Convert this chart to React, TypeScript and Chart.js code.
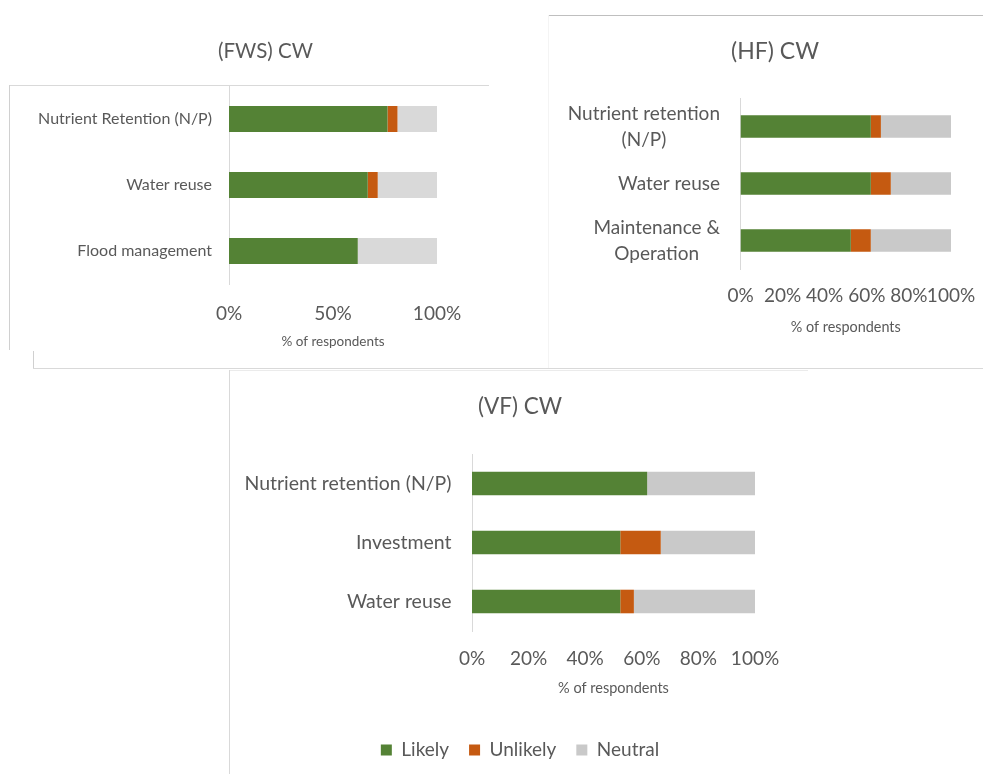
import React, { useEffect, useRef } from 'react';
import { Chart, registerables } from 'chart.js';
Chart.register(...registerables);

const FONT = 'Lato, "Open Sans", sans-serif';
const TEXT = '#595959';
const GREEN = '#548235';
const ORANGE = '#C55A11';
const NEUTRAL_LIGHT = '#D9D9D9';
const NEUTRAL = '#C9C9C9';

const seriesNames = ['Likely', 'Unlikely', 'Neutral'];
const axisTitle = '% of respondents';

// (FWS) CW
const fwsTitle = '(FWS) CW';
const fwsCategories = ['Nutrient Retention (N/P)', 'Water reuse', 'Flood management'];
const fwsLikely = [76.2, 66.7, 61.9];
const fwsUnlikely = [4.8, 4.8, 0];
const fwsNeutral = [19.0, 28.5, 38.1];
const fwsTickStep = 50;

// (HF) CW
const hfTitle = '(HF) CW';
const hfCategories = [['Nutrient retention', '(N/P)'], 'Water reuse', ['Maintenance &', 'Operation']];
const hfLikely = [61.9, 61.9, 52.4];
const hfUnlikely = [4.8, 9.5, 9.5];
const hfNeutral = [33.3, 28.6, 38.1];
const hfTickStep = 20;

// (VF) CW
const vfTitle = '(VF) CW';
const vfCategories = ['Nutrient retention (N/P)', 'Investment', 'Water reuse'];
const vfLikely = [61.9, 52.4, 52.4];
const vfUnlikely = [0, 14.3, 4.8];
const vfNeutral = [38.1, 33.3, 42.8];
const vfTickStep = 20;

// Category labels: each block right-aligned against the axis, lines centred within the block.
const blockLabels = {
  id: 'blockLabels',
  afterDraw(chart: any, _args: any, opts: any) {
    const { ctx } = chart;
    const y = chart.scales.y;
    ctx.save();
    ctx.font = `${opts.size}px ${FONT}`;
    ctx.fillStyle = TEXT;
    ctx.textBaseline = 'middle';
    ctx.textAlign = 'center';
    chart.data.labels.forEach((lab: any, i: number) => {
      const lines: string[] = Array.isArray(lab) ? lab : [lab];
      const w = Math.max(...lines.map((l) => ctx.measureText(l).width));
      const cx = chart.chartArea.left - opts.gap - w / 2;
      const cy = y.getPixelForValue(i);
      lines.forEach((l, j) => {
        ctx.fillText(l, cx, cy + (j - (lines.length - 1) / 2) * opts.lineHeight);
      });
    });
    ctx.restore();
  },
};

function makeConfig(p: any): any {
  const ds = [
    { label: seriesNames[0], data: p.likely, backgroundColor: GREEN },
    { label: seriesNames[1], data: p.unlikely, backgroundColor: ORANGE },
    { label: seriesNames[2], data: p.neutral, backgroundColor: p.neutralColor },
  ].map((d) => ({ ...d, barPercentage: p.barPct, categoryPercentage: 1, borderWidth: 0 }));
  return {
    type: 'bar',
    data: { labels: p.labels, datasets: ds },
    options: {
      indexAxis: 'y',
      responsive: false,
      animation: false,
      devicePixelRatio: 1,
      layout: { padding: { left: p.padL, right: p.padR, top: 0, bottom: p.padB } },
      scales: {
        x: {
          stacked: true,
          min: 0,
          max: 100,
          grid: { display: false, drawTicks: false },
          border: { display: false },
          ticks: {
            stepSize: p.step,
            autoSkip: false,
            maxRotation: 0,
            minRotation: 0,
            padding: p.tickPad,
            color: TEXT,
            font: { family: FONT, size: p.tickSize },
            callback: (v: any) => v + '%',
          },
          title: {
            display: true,
            text: axisTitle,
            color: TEXT,
            font: { family: FONT, size: p.atSize },
            padding: { top: 0, bottom: p.atBottom },
          },
          afterFit: (s: any) => {
            s.height = p.xHeight;
          },
        },
        y: {
          stacked: true,
          grid: { display: false, drawTicks: false },
          border: { display: true, color: '#D9D9D9', width: 1 },
          ticks: { display: false },
          afterFit: (s: any) => {
            s.width = p.yWidth;
          },
        },
      },
      plugins: {
        legend: {
          display: !!p.legend,
          position: 'bottom',
          labels: {
            boxWidth: 11,
            boxHeight: 11,
            padding: 20,
            color: TEXT,
            font: { family: FONT, size: 19 },
          },
        },
        title: {
          display: true,
          text: p.title,
          color: TEXT,
          font: { family: FONT, size: p.titleSize, weight: 'normal' },
          padding: { top: p.tTop, bottom: p.tBottom },
        },
        tooltip: { enabled: false },
        blockLabels: { size: p.labelSize, lineHeight: p.labelLine, gap: p.labelGap },
      },
    },
    plugins: [blockLabels],
  };
}

function Panel({ p, left, top, width, height }: any) {
  const ref = useRef<HTMLCanvasElement>(null);
  useEffect(() => {
    const chart = new Chart(ref.current as HTMLCanvasElement, makeConfig(p));
    return () => chart.destroy();
  }, []);
  return (
    <canvas
      ref={ref}
      width={width}
      height={height}
      style={{ position: 'absolute', left, top, width, height }}
    />
  );
}

function Line({ x, y, w, h, c }: any) {
  return <div style={{ position: 'absolute', left: x, top: y, width: w, height: h, background: c, zIndex: 2 }} />;
}

export default function App() {
  return (
    <div style={{ position: 'relative', width: 991, height: 782, margin: -8, background: '#fff' }}>
      <Panel
        left={10}
        top={20}
        width={480}
        height={340}
        p={{
          title: fwsTitle, labels: fwsCategories, likely: fwsLikely, unlikely: fwsUnlikely, neutral: fwsNeutral,
          neutralColor: NEUTRAL_LIGHT, step: fwsTickStep, barPct: 0.394,
          padL: 84, padR: 53, padB: 9.9, yWidth: 135, labelGap: 17, labelSize: 16, labelLine: 20,
          tickSize: 19, tickPad: 18.5, atSize: 13.5, atBottom: 0, xHeight: 66.1,
          titleSize: 20.5, tTop: 18.7, tBottom: 22.7,
        }}
      />
      <Panel
        left={550}
        top={20}
        width={441}
        height={340}
        p={{
          title: hfTitle, labels: hfCategories, likely: hfLikely, unlikely: hfUnlikely, neutral: hfNeutral,
          neutralColor: NEUTRAL, step: hfTickStep, barPct: 0.395,
          padL: 49, padR: 40, padB: 24.35, yWidth: 141.5, labelGap: 20.5, labelSize: 19, labelLine: 26,
          tickSize: 19, tickPad: 15.5, atSize: 14.4, atBottom: 0, xHeight: 66.65,
          titleSize: 23, tTop: 17.9, tBottom: 32.5,
        }}
      />
      <Panel
        left={230}
        top={372}
        width={578}
        height={410}
        p={{
          title: vfTitle, labels: vfCategories, likely: vfLikely, unlikely: vfUnlikely, neutral: vfNeutral,
          neutralColor: NEUTRAL, step: vfTickStep, barPct: 0.4, legend: true,
          padL: 55, padR: 53, padB: 12.5, yWidth: 187, labelGap: 20.5, labelSize: 19.5, labelLine: 24,
          tickSize: 19, tickPad: 16.5, atSize: 14.5, atBottom: 23.8, xHeight: 89.5,
          titleSize: 22.5, tTop: 21.5, tBottom: 33.5,
        }}
      />
      {/* panel frame lines */}
      <Line x={10} y={85} w={479} h={1} c="#D9D9D9" />
      <Line x={9} y={85} w={1} h={265} c="#D0D0D0" />
      <Line x={33} y={351} w={1} h={18} c="#D0D0D0" />
      <Line x={33} y={368} w={958} h={1} c="#D9D9D9" />
      <Line x={229} y={370} w={579} h={1} c="#EBEBEB" />
      <Line x={229} y={370} w={1} h={412} c="#D9D9D9" />
      <Line x={548} y={15} w={443} h={1} c="#BFBFBF" />
      <Line x={548} y={15} w={1} h={353} c="#F4F4F4" />
      <Line x={538} y={2} w={10} h={1} c="#EDEDED" />
    </div>
  );
}
